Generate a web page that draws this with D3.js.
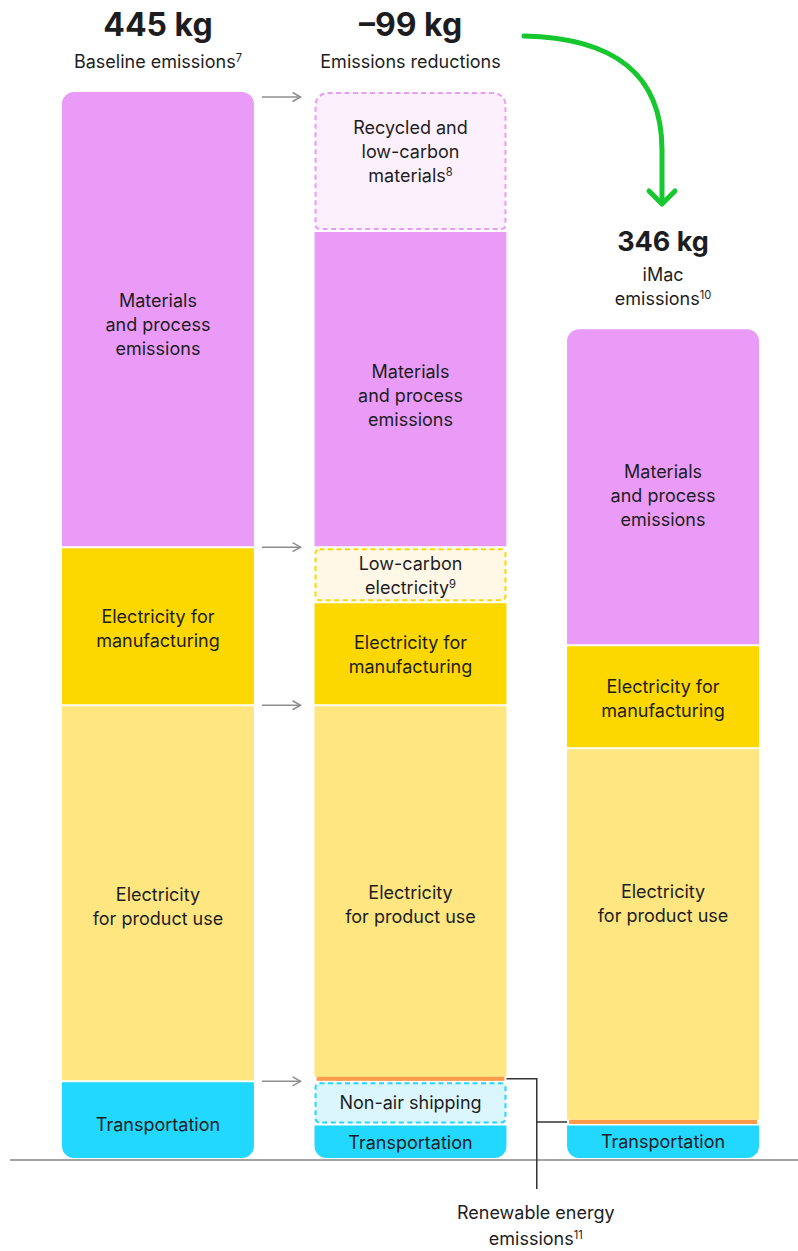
<!DOCTYPE html>
<html><head><meta charset="utf-8">
<script src="https://cdn.jsdelivr.net/npm/d3@7"></script>
<style>
body{margin:0;background:#fff;}
svg{display:block;font-family:Inter,"Noto Sans",sans-serif;}
</style>
</head><body>
<svg id="chart" width="798" height="1251"></svg>
<script>
// ---------- DATA ----------
const columns = ["Baseline", "Reductions", "iMac"];
const totalLabels = ["445 kg", "\u201399 kg", "346 kg"];
const subtitleLines = [["Baseline emissions^7"], ["Emissions reductions"], ["iMac", "emissions^10"]];

const baselineTypes  = ["materials", "mfg", "use", "transport"];
const baselineValues = [190, 66, 157, 32];
const baselineLabels = [["Materials", "and process", "emissions"], ["Electricity for", "manufacturing"], ["Electricity", "for product use"], ["Transportation"]];

const reductionTypes  = ["recycled", "materials", "lowcarbon", "mfg", "use", "renewable", "nonair", "transport"];
const reductionValues = [58, 132, 23, 43, 155.5, 1.5, 18, 14];
const reductionLabels = [["Recycled and", "low-carbon", "materials^8"], ["Materials", "and process", "emissions"], ["Low-carbon", "electricity^9"], ["Electricity for", "manufacturing"], ["Electricity", "for product use"], [], ["Non-air shipping"], ["Transportation"]];

const imacTypes  = ["materials", "mfg", "use", "renewable", "transport"];
const imacValues = [132, 43, 155.5, 1.5, 14];
const imacLabels = [["Materials", "and process", "emissions"], ["Electricity for", "manufacturing"], ["Electricity", "for product use"], [], ["Transportation"]];

const calloutLines = ["Renewable energy", "emissions^11"];

// ---------- STYLE / LAYOUT ----------
const fills = {materials:"#ea9bf8", mfg:"#fdd700", use:"#ffe680", transport:"#22d8ff", renewable:"#ff9a48",
               recycled:"#fcf0fd", lowcarbon:"#fff8e7", nonair:"#dbf6fd"};
const dashStroke = {recycled:"#ea9bf8", lowcarbon:"#fdd700", nonair:"#22d8ff"};
const labelNudge = [[5, 2, 13, 4], [-9, 6, 1, 1, 13, 0, 0, 1], [9, 2, -31, 0, 0]];
const R = 12;

const svg = d3.select("#chart");
const x = d3.scaleBand().domain(columns).range([62, 759]).paddingInner(0.24).paddingOuter(0);
const y = d3.scaleLinear().domain([0, 445]).range([1158, 92]);
const bw = x.bandwidth();

function rr(x0, y0, w, h, rt, rb) {
  rt = Math.min(rt, h / 2); rb = Math.min(rb, h / 2);
  return `M${x0+rt},${y0}H${x0+w-rt}A${rt},${rt} 0 0 1 ${x0+w},${y0+rt}V${y0+h-rb}A${rb},${rb} 0 0 1 ${x0+w-rb},${y0+h}H${x0+rb}A${rb},${rb} 0 0 1 ${x0},${y0+h-rb}V${y0+rt}A${rt},${rt} 0 0 1 ${x0+rt},${y0}Z`;
}

function addText(g, str, xx, yy, size, weight) {
  const t = g.append("text").attr("x", xx).attr("y", yy).attr("text-anchor", "middle")
    .attr("font-size", size).attr("font-weight", weight || 400).attr("fill", "#1d1d1f");
  const parts = str.split("^");
  t.append("tspan").text(parts[0]);
  if (parts[1]) t.append("tspan").attr("font-size", size * 0.62).attr("dy", -size * 0.36).text(parts[1]);
  return t;
}

// baseline rule
svg.append("line").attr("x1", 10).attr("x2", 798).attr("y1", 1160).attr("y2", 1160)
  .attr("stroke", "#a3a3a3").attr("stroke-width", 2);

const stacks = [
  {types: baselineTypes, values: baselineValues, labels: baselineLabels},
  {types: reductionTypes, values: reductionValues, labels: reductionLabels},
  {types: imacTypes, values: imacValues, labels: imacLabels}
];

const renewCenters = [];
stacks.forEach((s, ci) => {
  const col = columns[ci];
  const x0 = x(col);
  const total = d3.sum(s.values);
  const g = svg.append("g");
  let cum = total;
  const n = s.values.length;
  s.values.forEach((v, i) => {
    const type = s.types[i];
    const topV = cum, botV = cum - v;
    cum = botV;
    let yt = y(topV), yb = y(botV);
    if (type === "renewable") {
      yt = yt - 1; yb = yb - 0.5;
      g.append("rect").attr("x", x0 + 2).attr("y", yt).attr("width", bw - 4).attr("height", yb - yt).attr("fill", fills[type]);
      renewCenters.push({x0, x1: x0 + bw, y: (yt + yb) / 2});
      return;
    }
    if (i > 0) yt += 1;
    if (i < n - 1) yb -= 1;
    const dashed = !!dashStroke[type];
    const rt = i === 0 ? R : (dashed ? 4 : 0);
    const rb = i === n - 1 ? R : (dashed ? 4 : 0);
    if (dashed) {
      g.append("path").attr("d", rr(x0 + 1, yt + 1, bw - 2, yb - yt - 2, rt, rb))
        .attr("fill", fills[type]).attr("stroke", dashStroke[type]).attr("stroke-width", 2)
        .attr("stroke-dasharray", "5,3.5");
    } else {
      g.append("path").attr("d", rr(x0, yt, bw, yb - yt, rt, rb)).attr("fill", fills[type]);
    }
    const lines = s.labels[i];
    const cy = (yt + yb) / 2 + labelNudge[ci][i];
    lines.forEach((ln, li) => {
      addText(g, ln, x0 + bw / 2, cy + (li - (lines.length - 1) / 2) * 24 + 6.5, 18, 400);
    });
  });
  // headers
  const cx = x0 + bw / 2;
  if (ci < 2) {
    addText(svg, totalLabels[ci], cx, 36, 32, 700);
    addText(svg, subtitleLines[ci][0], cx, 68, 18, 400);
  } else {
    addText(svg, totalLabels[ci], cx, 251, 27, 700);
    subtitleLines[ci].forEach((ln, li) => addText(svg, ln, cx, 281 + li * 24, 18, 400));
  }
});

// gray arrows from baseline segments to reductions
{
  let cum = d3.sum(baselineValues);
  const ax0 = x(columns[0]) + bw + 8, ax1 = x(columns[1]) - 14;
  baselineValues.forEach((v, i) => {
    const ay = i === 0 ? y(cum) + 5 : y(cum);
    cum -= v;
    svg.append("line").attr("x1", ax0).attr("x2", ax1).attr("y1", ay).attr("y2", ay)
      .attr("stroke", "#8e8e8e").attr("stroke-width", 1.5);
    svg.append("path").attr("d", `M${ax1-8},${ay-4.5}L${ax1},${ay}L${ax1-8},${ay+4.5}`)
      .attr("fill", "none").attr("stroke", "#8e8e8e").attr("stroke-width", 1.5);
  });
}

// green arrow
svg.append("path").attr("d", "M524,36 C612,38 662,72 662,150 V202")
  .attr("fill", "none").attr("stroke", "#16c72f").attr("stroke-width", 5).attr("stroke-linecap", "round");
svg.append("path").attr("d", "M649,191 L662,204 L675,191")
  .attr("fill", "none").attr("stroke", "#16c72f").attr("stroke-width", 5)
  .attr("stroke-linecap", "round").attr("stroke-linejoin", "round");

// callout for renewable energy
{
  const a = renewCenters[0], b = renewCenters[1];
  const mx = (a.x1 + b.x0) / 2;
  svg.append("path").attr("d", `M${a.x1},${a.y}H${mx}V1189M${mx},${b.y}H${b.x0}`)
    .attr("fill", "none").attr("stroke", "#333").attr("stroke-width", 1.5);
  calloutLines.forEach((ln, li) => addText(svg, ln, mx - 1, 1219 + li * 26, 18, 400));
}
</script>
</body></html>
